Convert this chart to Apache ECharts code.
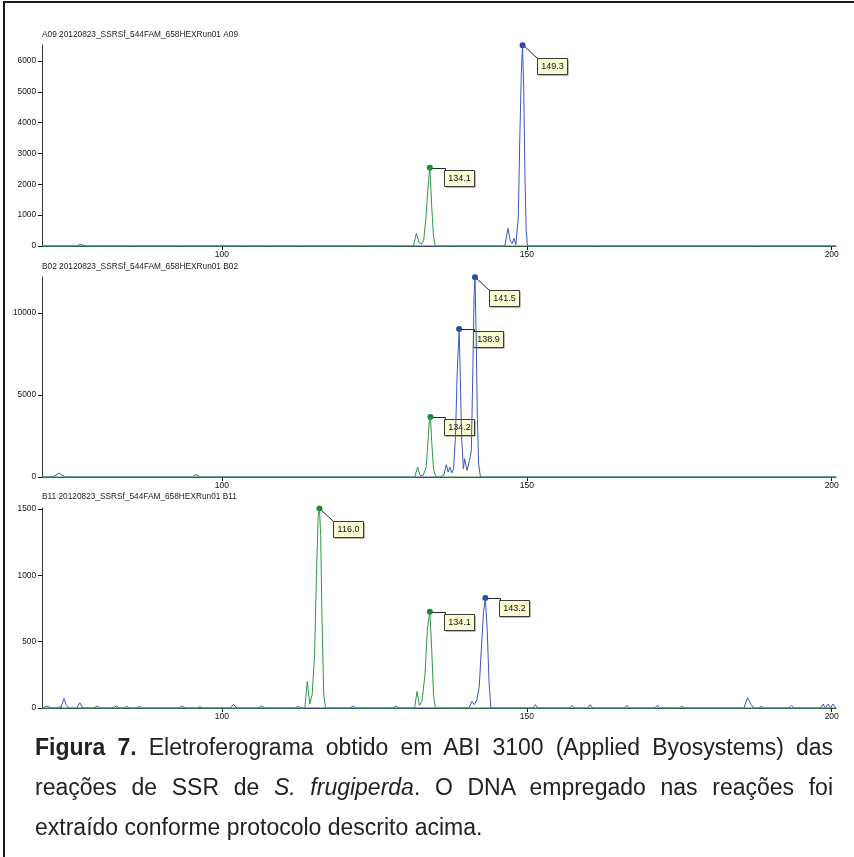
<!DOCTYPE html>
<html>
<head>
<meta charset="utf-8">
<script src="https://cdn.jsdelivr.net/npm/echarts@6/dist/echarts.min.js"></script>
<style>
  html, body { margin:0; padding:0; background:#fff; }
  #chart { position:absolute; left:0; top:0; width:854px; height:730px; }
  #frame { position:absolute; left:3px; top:1px; width:851px; height:856px;
           border-left:2px solid #1a1a1a; border-top:2px solid #1a1a1a; pointer-events:none; }
  #capwrap { position:absolute; left:35px; top:727px; width:798px; }
  .cap { height:40px; font-family:"Liberation Sans",Arial,sans-serif;
         font-size:23px; line-height:40px; color:#222; white-space:nowrap; }
  .just { text-align:justify; text-align-last:justify; white-space:normal; }
</style>
</head>
<body>
<div id="chart"></div>
<div id="capwrap">
  <div class="cap just"><b>Figura 7.</b> Eletroferograma obtido em ABI 3100 (Applied Byosystems) das</div>
  <div class="cap just">reações de SSR de <i>S. frugiperda</i>. O DNA empregado nas reações foi</div>
  <div class="cap">extraído conforme protocolo descrito acima.</div>
</div>
<div id="frame"></div>
<script>
// ---------------- data ----------------
const panelTitles = [
  "A09 20120823_SSRSf_544FAM_658HEXRun01 A09",
  "B02 20120823_SSRSf_544FAM_658HEXRun01 B02",
  "B11 20120823_SSRSf_544FAM_658HEXRun01 B11"
];
const sizeRange = [70.5, 200.7];
const sizeTicks = [100, 150, 200];
const A09_yTicks = [0, 1000, 2000, 3000, 4000, 5000, 6000];
const B02_yTicks = [0, 5000, 10000];
const B11_yTicks = [0, 500, 1000, 1500];
const yMaxes = [6519, 12195, 1508];

// A09
const A09_blue = [[70.5,0],[76.2,0],[76.7,50],[77.2,30],[77.7,0],[85.0,0],[85.2,25],[85.5,0],[87.4,0],[87.6,25],[87.9,0],
  [93.4,0],[93.6,25],[93.9,0],[95.6,0],[95.8,25],[96.1,0],[102.2,0],[102.5,35],[102.8,0],[103.6,0],[103.9,30],[104.2,0],
  [107.1,0],[107.3,25],[107.6,0],[112.5,0],[112.7,25],[113.0,0],[120.0,0],[120.2,25],[120.5,0],[124.6,0],[124.8,25],[125.1,0],
  [134.6,0],[134.9,40],[135.2,0],[137.2,0],[137.4,40],[137.7,0],
  [146.4,0],[146.9,575],[147.3,150],[147.6,80],[147.9,250],[148.2,40],[148.45,0],[148.6,900],[148.85,3500],[149.1,5600],
  [149.3,6510],[149.5,5000],[149.7,2200],[149.9,500],[150.1,0],[161.0,0],[161.3,30],[161.6,0],[173.0,0],[173.3,25],[173.6,0],
  [188.0,0],[188.3,25],[188.6,0],[200.0,0],[200.3,30],[200.7,0]];
const A09_green = [[70.5,0],[122.7,0],[122.9,30],[123.2,0],[127.4,0],[127.7,40],[128.0,0],[129.4,0],[129.7,35],[130.0,0],
  [131.4,0],[131.9,410],[132.3,120],[132.7,60],[133.1,200],[133.45,900],[133.8,1900],[134.1,2540],[134.4,1300],[134.7,300],
  [135.0,0],[200.7,0]];
const A09_bluePeaks = [[149.3, 6510]];
const A09_greenPeaks = [[134.1, 2540]];

// B02
const B02_blue = [[70.5,0],[72.2,0],[72.8,120],[73.3,240],[73.8,100],[74.4,0],[81.0,0],[81.3,40],[81.6,0],
  [95.2,0],[95.6,130],[96.0,110],[96.4,0],[131.0,0],[131.3,60],[131.6,0],
  [135.8,0],[136.4,120],[136.8,750],[137.1,300],[137.4,600],[137.7,250],[138.0,500],[138.3,2500],[138.6,6500],[138.9,9020],
  [139.1,6000],[139.3,2500],[139.6,500],[139.8,1120],[140.2,400],[140.6,1000],[140.9,1600],[141.15,6500],[141.35,11000],
  [141.5,12180],[141.7,8500],[141.9,3500],[142.1,800],[142.4,0],[143.0,0],[143.3,60],[143.6,0],[200.7,0]];
const B02_green = [[70.5,0],[131.6,0],[132.1,610],[132.5,90],[133.0,100],[133.5,600],[133.8,2200],[134.0,3300],[134.2,3660],
  [134.4,2200],[134.7,500],[135.0,100],[135.4,0],[200.7,0]];
const B02_bluePeaks = [[141.5, 12180], [138.9, 9020]];
const B02_greenPeaks = [[134.2, 3660]];

// B11
const B11_blue = [[70.5,0],[71.3,15],[72.0,0],[73.6,0],[74.1,73],[74.5,20],[75.0,0],[76.2,0],[76.7,40],[77.2,0],
  [79.0,0],[79.5,15],[80.0,0],[82.2,0],[82.7,15],[83.2,0],[86.0,0],[86.5,12],[87.0,0],[93.0,0],[93.5,15],[94.0,0],
  [101.4,0],[101.9,28],[102.4,0],[106.0,0],[106.5,15],[107.0,0],[112.0,0],[112.5,12],[113.0,0],[121.0,0],[121.5,15],[122.0,0],
  [128.0,0],[128.5,15],[129.0,0],[140.5,0],[141.0,50],[141.4,25],[141.8,60],[142.2,160],[142.55,450],[142.9,720],
  [143.2,830],[143.5,600],[143.8,200],[144.1,0],[151.0,0],[151.4,25],[151.8,0],[157.0,0],[157.4,20],[157.8,0],
  [160.0,0],[160.4,25],[160.8,0],[166.0,0],[166.4,20],[166.8,0],[171.0,0],[171.4,20],[171.8,0],[185.6,0],[186.2,78],
  [186.8,25],[187.2,0],[193.0,0],[193.4,20],[193.8,0],[198.2,0],[198.6,30],[199.0,0],[199.4,30],[199.8,0],[200.2,30],[200.7,0]];
const B11_green = [[70.5,0],[73.0,0],[73.4,12],[73.8,0],[84.0,0],[84.4,15],[84.8,0],[96.0,0],[96.4,12],[96.8,0],
  [113.6,0],[114.0,200],[114.4,30],[114.8,100],[115.2,400],[115.5,1000],[115.8,1450],[116.0,1505],[116.2,1300],[116.4,700],
  [116.7,100],[117.0,0],[131.6,0],[132.0,125],[132.4,20],[132.8,50],[133.3,250],[133.7,600],[134.1,725],[134.4,450],
  [134.7,100],[135.0,0],[175.0,0],[175.4,15],[175.8,0],[188.0,0],[188.4,15],[188.8,0],[200.7,0]];
const B11_bluePeaks = [[143.2, 830]];
const B11_greenPeaks = [[116.0, 1505], [134.1, 725]];

// ---------------- layout / style ----------------
const BLUE = '#3a58b8', GREEN = '#2e9649';
const BLUE_MK = '#2a4aa6', GREEN_MK = '#178a3a';
const layout = [
  { top: 45, height: 201, titleTop: 31 },
  { top: 277, height: 200, titleTop: 263 },
  { top: 508, height: 200, titleTop: 493 }
];
const panels = [
  { yTicks: A09_yTicks, blue: A09_blue, green: A09_green, bp: A09_bluePeaks, gp: A09_greenPeaks },
  { yTicks: B02_yTicks, blue: B02_blue, green: B02_green, bp: B02_bluePeaks, gp: B02_greenPeaks },
  { yTicks: B11_yTicks, blue: B11_blue, green: B11_green, bp: B11_bluePeaks, gp: B11_greenPeaks }
];
const LEFT = 42, RIGHT = 18;
const labelFont = 'Liberation Sans';

const option = { animation: false, title: [], grid: [], xAxis: [], yAxis: [], series: [] };

panels.forEach((p, i) => {
  const L = layout[i];
  option.title.push({
    text: panelTitles[i], left: LEFT, top: L.titleTop, padding: 0,
    textStyle: { fontSize: 8.3, fontWeight: 'normal', color: '#222', fontFamily: labelFont }
  });
  option.grid.push({ left: LEFT, right: RIGHT, top: L.top, height: L.height, containLabel: false });
  option.xAxis.push({
    type: 'value', gridIndex: i, min: sizeRange[0], max: sizeRange[1],
    axisLine: { show: true, onZero: false, lineStyle: { color: '#333', width: 1 } },
    axisTick: { show: true, customValues: sizeTicks, length: 4, lineStyle: { color: '#111' } },
    axisLabel: { show: true, customValues: sizeTicks, margin: 4, fontSize: 8.5, color: '#111', fontFamily: labelFont,
                 formatter: (v) => String(v) },
    splitLine: { show: false }
  });
  option.yAxis.push({
    type: 'value', gridIndex: i, min: 0, max: yMaxes[i],
    axisLine: { show: true, lineStyle: { color: '#333', width: 1 } },
    axisTick: { show: true, customValues: p.yTicks, length: 4, lineStyle: { color: '#111' } },
    axisLabel: { show: true, customValues: p.yTicks, margin: 6, fontSize: 8.3, color: '#111', fontFamily: labelFont,
                 formatter: (v) => String(v) },
    splitLine: { show: false }
  });
  const lineSeries = (data, color) => ({
    type: 'line', xAxisIndex: i, yAxisIndex: i, data: data, symbol: 'none', showSymbol: false,
    clip: false, lineStyle: { color: color, width: 1 }, z: 3
  });
  const allPeaks = p.bp.concat(p.gp).map(d => d[1]);
  const topPeak = Math.max.apply(null, allPeaks);
  const peakSeries = (data, color) => ({
    type: 'custom', xAxisIndex: i, yAxisIndex: i, data: data, encode: { x: 0, y: 1 }, z: 2, clip: false,
    renderItem: (params, api) => {
      const xv = api.value(0), yv = api.value(1);
      const pt = api.coord([xv, yv]);
      const cx = Math.round(pt[0]) + 0.5, cy = Math.round(pt[1]) + 0.5;
      const tall = yv >= topPeak;
      const bx = cx + 14, by = cy + (tall ? 13 : 2);
      const lead = tall ? [[cx, cy], [bx, by]] : [[cx, cy], [bx + 1, cy], [bx + 1, by]];
      return {
        type: 'group',
        children: [
          { type: 'rect', shape: { x: bx + 1, y: by + 1, width: 30, height: 16 }, style: { fill: 'rgba(0,0,0,0.55)' } },
          { type: 'rect', shape: { x: bx, y: by, width: 30, height: 16 }, style: { fill: '#fbfbd3', stroke: '#3a3a3a', lineWidth: 1 } },
          { type: 'polyline', shape: { points: lead }, style: { stroke: '#222', lineWidth: 1, fill: null } },
          { type: 'text', x: bx + 15, y: by + 8.5,
            style: { text: xv.toFixed(1), fill: '#111', font: '9px "Liberation Sans"', align: 'center', verticalAlign: 'middle' } },
          { type: 'circle', shape: { cx: pt[0], cy: pt[1], r: 3 }, style: { fill: color } }
        ]
      };
    }
  });
  option.series.push(peakSeries(p.bp, BLUE_MK));
  option.series.push(peakSeries(p.gp, GREEN_MK));
  option.series.push(lineSeries(p.blue, BLUE));
  option.series.push(lineSeries(p.green, GREEN));
});

const chart = echarts.init(document.getElementById('chart'), null, { renderer: 'canvas' });
chart.setOption(option);
</script>
</body>
</html>
